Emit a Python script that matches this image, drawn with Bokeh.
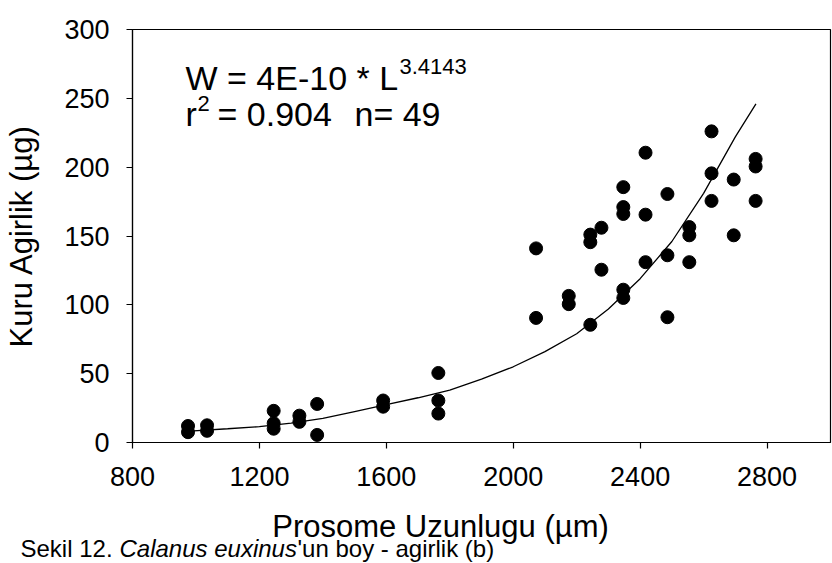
from bokeh.plotting import figure
from bokeh.models import Label, FixedTicker, Range1d, ColumnDataSource
from bokeh.layouts import column, row
from bokeh.embed import file_html
from bokeh.resources import INLINE

# ---- data ----
length_um = [975, 975, 1035, 1035, 1245, 1245, 1245, 1326, 1326, 1382, 1382,
             1590, 1590, 1764, 1764, 1764,
             2072, 2072, 2175, 2175, 2243, 2243, 2243, 2278, 2278,
             2347, 2347, 2347, 2347, 2347, 2417, 2417, 2417, 2486, 2486, 2486,
             2555, 2555, 2555, 2625, 2625, 2625, 2695, 2695, 2764, 2764, 2764]
weight_ug = [12, 7.5, 12.5, 8.5, 23, 14, 10, 19.5, 15, 28, 5.5,
             30.5, 26, 50.5, 30.5, 21,
             141, 90.5, 106.5, 100.5, 85.5, 151, 145.5, 156, 125.5,
             185.5, 171, 166, 111, 105, 210.5, 165.5, 131, 180.5, 136, 91,
             156.5, 150.5, 131, 226, 195.5, 175.5, 191, 150.5, 206, 200.5, 175.5]

# fitted curve as drawn in the picture
fit_length = [980, 1100, 1200, 1300, 1400, 1500, 1600, 1700, 1800, 1900,
              2000, 2100, 2200, 2300, 2400, 2500, 2600, 2700, 2765]
fit_weight = [8.3, 10, 11.5, 14, 17.5, 22.5, 27.5, 32.5, 38, 46,
              55, 66, 79, 97, 119, 146, 181, 222, 246]

x_ticks = [800, 1200, 1600, 2000, 2400, 2800]
y_ticks = [0, 50, 100, 150, 200, 250, 300]

FONT = "Liberation Sans"

p = figure(width=832, height=500, output_backend="svg", toolbar_location=None,
           x_range=Range1d(800, 3000), y_range=Range1d(0, 300),
           min_border_left=132, min_border_right=2, min_border_top=29, min_border_bottom=58)
p.background_fill_color = "white"
p.border_fill_color = "white"
p.outline_line_color = "black"
p.outline_line_width = 1.2
p.xgrid.visible = False
p.ygrid.visible = False

for ax in (p.xaxis[0], p.yaxis[0]):
    ax.axis_line_color = "black"
    ax.axis_line_width = 1.2
    ax.major_tick_line_color = "black"
    ax.major_tick_line_width = 1.2
    ax.major_tick_out = 6
    ax.major_tick_in = 0
    ax.minor_tick_line_color = None
    ax.major_label_text_font = FONT
    ax.major_label_text_font_size = "27px"
    ax.major_label_text_color = "black"
    ax.axis_label_text_font = FONT
    ax.axis_label_text_font_size = "31px"
    ax.axis_label_text_font_style = "normal"
    ax.axis_label_text_color = "black"

p.xaxis.ticker = FixedTicker(ticks=x_ticks)
p.yaxis.ticker = FixedTicker(ticks=y_ticks)
p.yaxis.axis_label = "Kuru Agirlik (\u00b5g)"
p.xaxis.major_label_standoff = 18
p.yaxis.major_label_standoff = 17
p.yaxis.axis_label_standoff = 22

src = ColumnDataSource(dict(x=length_um, y=weight_ug))
fit = ColumnDataSource(dict(x=fit_length, y=fit_weight))
p.line("x", "y", source=fit, line_color="black", line_width=1.3)
p.scatter("x", "y", source=src, size=13, fill_color="black", line_color="black")

def lab(fig, x, y, text, size, style="normal", align="left"):
    fig.add_layout(Label(x=x, y=y, x_units="screen", y_units="screen", text=text,
                         text_font=FONT, text_font_size=size, text_font_style=style,
                         text_color="black", text_baseline="alphabetic", text_align=align))

# equation text
lab(p, 53, 365, "W = 4E-10 * L", "34px")
lab(p, 267, 376, "3.4143", "22px")
lab(p, 53, 329, "r", "34px")
lab(p, 65, 339, "2", "22px")
lab(p, 85, 329, "= 0.904", "34px")
lab(p, 222, 329, "n= 49", "34px")

# bottom strip: x axis title and the figure caption
cap = figure(width=832, height=63, output_backend="svg", toolbar_location=None,
             x_range=Range1d(0, 1), y_range=Range1d(0, 1),
             x_axis_type=None, y_axis_type=None,
             min_border_left=0, min_border_right=0, min_border_top=0, min_border_bottom=0)
cap.outline_line_color = None
cap.xgrid.visible = False
cap.ygrid.visible = False
cap.background_fill_color = "white"
cap.border_fill_color = "white"

lab(cap, 440, 37, "Prosome Uzunlugu (\u00b5m)", "31px", align="center")
lab(cap, 20, 15, "Sekil 12.", "24px")
lab(cap, 119, 15, "Calanus euxinus", "24px", "italic")
lab(cap, 297, 15, "'un boy - agirlik (b)", "24px")

layout = column(p, row(cap, spacing=0), spacing=0)
open("out.html", "w").write(file_html(layout, INLINE))
